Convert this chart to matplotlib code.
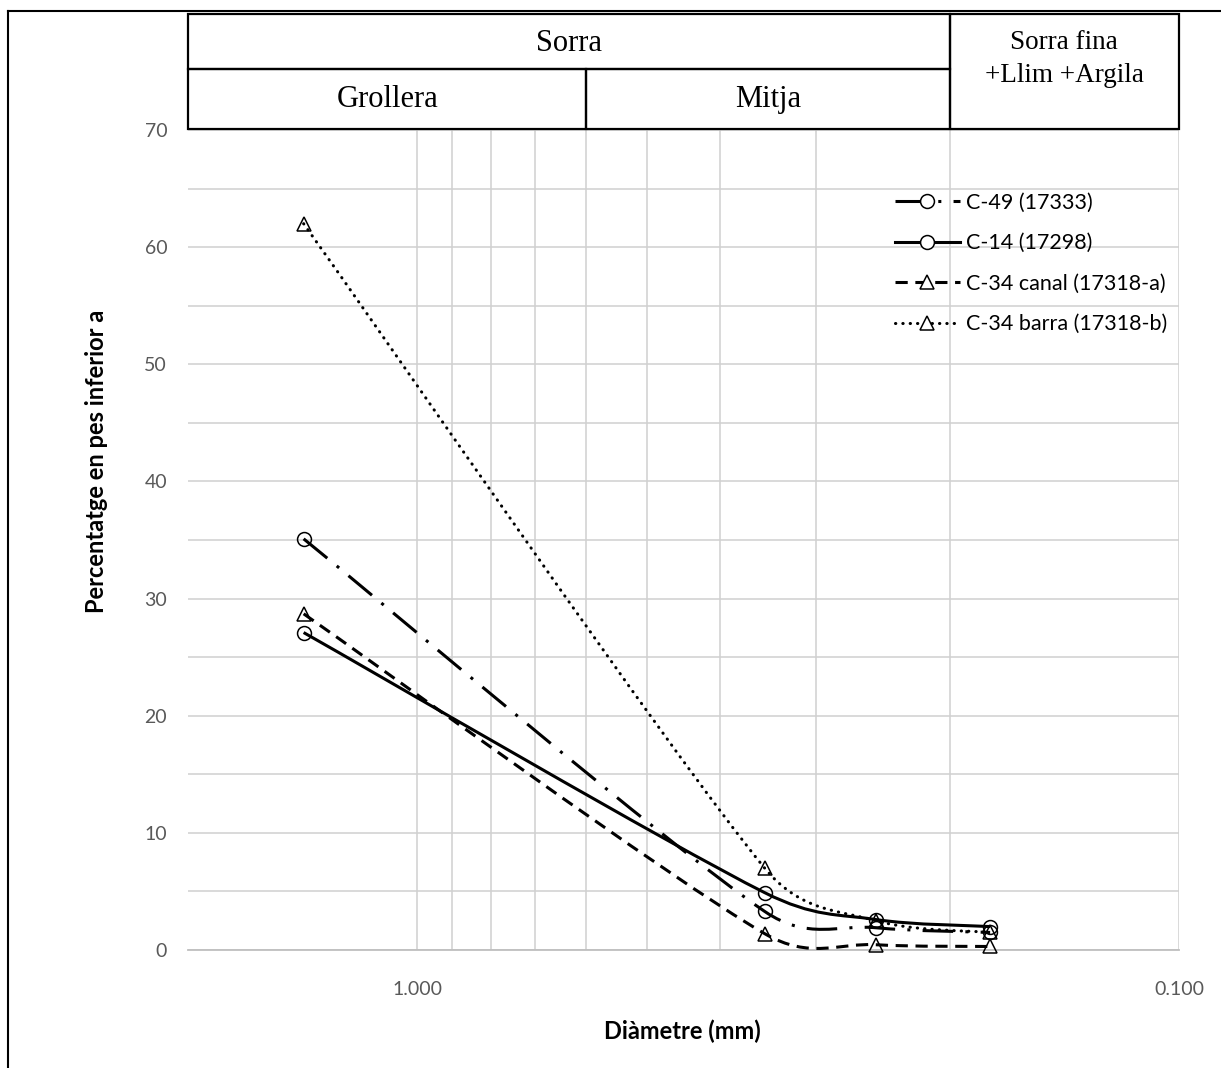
import numpy as np
import matplotlib.pyplot as plt
from matplotlib.path import Path
from matplotlib.patches import PathPatch, Rectangle
from matplotlib.lines import Line2D
from matplotlib.ticker import FixedLocator, NullFormatter, FixedFormatter
import matplotlib.transforms as mtransforms

# Data
diametre = [1.41, 0.35, 0.25, 0.177]
c49 = [35.1, 3.3, 1.9, 1.5]
c14 = [27.1, 4.9, 2.6, 2.0]
c34_canal = [28.7, 1.4, 0.45, 0.3]
c34_barra = [62.0, 7.0, 2.5, 1.5]

labels = ['C-49 (17333)', 'C-14 (17298)', 'C-34 canal (17318-a)', 'C-34 barra (17318-b)']
x_major = [1.0, 0.1]
x_major_labels = ['1.000', '0.100']
x_minor = [0.9, 0.8, 0.7, 0.6, 0.5, 0.4, 0.3, 0.2]

# header classes: (name, left, right)
header_top = [('Sorra', 2.0, 0.2)]
header_bottom = [('Grollera', 2.0, 0.6), ('Mitja', 0.6, 0.2)]
header_side = ('Sorra fina\n+Llim +Argila', 0.2, 0.1)

SANS = ['Lato', 'DejaVu Sans']
SERIF = ['Liberation Serif', 'DejaVu Serif']


def smooth_path(ax, xs, ys):
    # Excel-like smoothed line: cubic bezier through the points, built in axes space
    tr = ax.transScale + ax.transLimits
    p = tr.transform(np.column_stack([xs, ys]))
    n = len(p)

    def tangent(i, seg):
        a = p[i - 1] if i > 0 else p[i]
        b = p[i + 1] if i + 1 < n else p[i]
        v = b - a
        nv = np.hypot(*v)
        if nv == 0:
            return v
        f = min(1.0, 3 * seg / nv)
        return v / 6.0 * f

    verts = [p[0]]
    codes = [Path.MOVETO]
    for i in range(n - 1):
        seg = np.hypot(*(p[i + 1] - p[i]))
        c1 = p[i] + tangent(i, seg)
        c2 = p[i + 1] - tangent(i + 1, seg)
        verts += [c1, c2, p[i + 1]]
        codes += [Path.CURVE4] * 3
    return Path(verts, codes)


def main():
    W, H, DPI = 1221, 1068, 100
    fig = plt.figure(figsize=(W / DPI, H / DPI), dpi=DPI)
    L, R, B, T = 188, 1179, 950, 130
    ax = fig.add_axes([L / W, 1 - B / H, (R - L) / W, (B - T) / H])

    ax.set_xscale('log')
    ax.set_xlim(2.0, 0.1)
    ax.set_ylim(0, 70)

    ax.xaxis.set_major_locator(FixedLocator(x_major))
    ax.xaxis.set_major_formatter(FixedFormatter(x_major_labels))
    ax.xaxis.set_minor_locator(FixedLocator(x_minor))
    ax.xaxis.set_minor_formatter(NullFormatter())
    ax.yaxis.set_major_locator(FixedLocator(np.arange(0, 71, 10)))
    ax.yaxis.set_minor_locator(FixedLocator(np.arange(5, 70, 10)))

    grid_c = '#d0d0d0'
    ax.grid(True, which='both', color=grid_c, lw=1.1)
    ax.set_axisbelow(True)
    for s in ['top', 'right', 'left']:
        ax.spines[s].set_visible(False)
    ax.spines['bottom'].set_color('#bfbfbf')
    ax.spines['bottom'].set_linewidth(1.3)
    ax.tick_params(which='both', length=0, labelsize=14, labelcolor='#595959')
    ax.tick_params(axis='y', pad=15)
    ax.tick_params(axis='x', pad=22)
    for t in ax.get_xticklabels() + ax.get_yticklabels():
        t.set_family(SANS)

    ax.set_xlabel('Diàmetre (mm)', fontsize=17, fontweight='bold', family=SANS)
    ax.set_ylabel('Percentatge en pes inferior a', fontsize=17, fontweight='bold',
                  family=SANS)
    ax.yaxis.set_label_coords(-0.081, 0.596)
    ax.xaxis.set_label_coords(0.499, -0.085)

    series = [
        (c49, 'o', dict(dashes=(10, 4, 1, 4))),
        (c14, 'o', dict(linestyle='-')),
        (c34_canal, '^', dict(dashes=(4, 2.5))),
        (c34_barra, '^', dict(dashes=(0.1, 2.3), dash_capstyle='round')),
    ]
    lw = 2.2
    handles = []
    for (vals, mk, style), lab in zip(series, labels):
        path = smooth_path(ax, diametre, vals)
        ls = style.get('linestyle', (0, style.get('dashes')))
        patch = PathPatch(path, transform=ax.transAxes, fill=False, edgecolor='black',
                          lw=lw, linestyle=ls, capstyle=style.get('dash_capstyle', 'butt'),
                          zorder=3, clip_on=False)
        ax.add_patch(patch)
        ax.plot(diametre, vals, linestyle='none', marker=mk, ms=10, mfc='none',
                mec='black', mew=1.1, zorder=4, clip_on=False)
        h = Line2D([], [], color='black', lw=lw, marker=mk, ms=10, mfc='white',
                   mec='black', mew=1.1, **style)
        handles.append(h)

    ax.legend(handles, labels, loc='upper left', bbox_to_anchor=(0.694, 0.947),
              frameon=False, handlelength=3.0, handletextpad=0.3,
              labelspacing=0.95, prop={'family': SANS, 'size': 15.5})

    # header boxes above the plot
    tr = mtransforms.blended_transform_factory(ax.transData, fig.transFigure)
    y_top, y_mid, y_bot = 1 - 14 / H, 1 - 69 / H, 1 - 129 / H
    box_kw = dict(transform=tr, fill=False, edgecolor='black', lw=1.6, clip_on=False)
    for name, x0, x1 in header_top:
        fig.patches.append(Rectangle((x0, y_mid), x1 - x0, y_top - y_mid, **box_kw))
        fig.text(np.sqrt(x0 * x1), (y_top + y_mid) / 2 - 2 / H, name, transform=tr,
                 ha='center', va='center', fontsize=22, family=SERIF)
    for name, x0, x1 in header_bottom:
        fig.patches.append(Rectangle((x0, y_bot), x1 - x0, y_mid - y_bot, **box_kw))
        fig.text(np.sqrt(x0 * x1), (y_mid + y_bot) / 2, name, transform=tr,
                 ha='center', va='center', fontsize=22, family=SERIF)
    name, x0, x1 = header_side
    fig.patches.append(Rectangle((x0, y_bot), x1 - x0, y_top - y_bot, **box_kw))
    fig.text(np.sqrt(x0 * x1), 1 - 59 / H, name, transform=tr, ha='center',
             va='center', fontsize=19.5, family=SERIF, linespacing=1.45)

    # outer frame (cut by the image edge on the right and bottom)
    fig.add_artist(Line2D([8 / W, 8 / W], [0, 1 - 11 / H], color='black', lw=1.5,
                          transform=fig.transFigure))
    fig.add_artist(Line2D([8 / W, 1], [1 - 11 / H, 1 - 11 / H], color='black', lw=1.5,
                          transform=fig.transFigure))

    fig.savefig('out.png', dpi=DPI)


if __name__ == "__main__":
    main()
